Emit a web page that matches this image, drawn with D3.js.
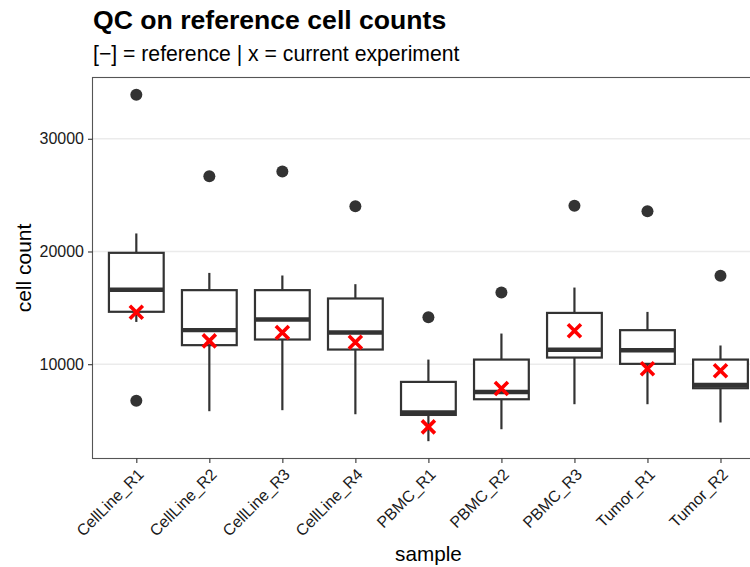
<!DOCTYPE html>
<html>
<head>
<meta charset="utf-8">
<script src="https://cdn.jsdelivr.net/npm/d3@7"></script>
<style>
  html, body { margin: 0; padding: 0; background: #fff; }
  svg { display: block; font-family: "Liberation Sans", Arial, Helvetica, sans-serif; }
</style>
</head>
<body>
<div id="chart"></div>
<script>
// ---- data ----
const categories = ["CellLine_R1","CellLine_R2","CellLine_R3","CellLine_R4","PBMC_R1","PBMC_R2","PBMC_R3","Tumor_R1","Tumor_R2"];
const whiskerLow  = [13750, 5830, 5920, 5560, 3170, 4230, 6450, 6450, 4830];
const q1          = [14650, 11690, 12190, 11300, 5500, 6890, 10590, 10030, 7870];
const medians     = [16600, 13020, 13970, 12810, 5720, 7540, 11280, 11240, 8160];
const q3          = [19880, 16570, 16570, 15830, 8430, 10410, 14550, 13020, 10410];
const whiskerHigh = [21600, 18100, 17870, 17100, 10410, 12720, 16800, 14640, 11660];
const outliers    = [[33900, 6750], [26680], [27100], [24020], [14170], [16360], [24050], [23580], [17840]];
const current     = [14600, 12070, 12810, 11950, 4440, 7840, 12960, 9590, 9410];
const yTicks      = [10000, 20000, 30000];

const titleText = "QC on reference cell counts";
const subtitleText = "[\u2212] = reference | x = current experiment";
const xTitle = "sample";
const yTitle = "cell count";

// ---- layout ----
const W = 750, H = 567;
const panel = { left: 92.5, right: 764.3, top: 77.5, bottom: 458.5 };

const svg = d3.select("#chart").append("svg")
  .attr("width", W).attr("height", H);

const allVals = [].concat(whiskerLow, whiskerHigh, current, outliers.flat());
const [vmin, vmax] = d3.extent(allVals);
const pad = (vmax - vmin) * 0.05;

const y = d3.scaleLinear().domain([vmin - pad, vmax + pad]).range([panel.bottom, panel.top]);
const x = d3.scalePoint().domain(categories).range([panel.left, panel.right]).padding(0.6);
const boxW = x.step() * 0.75;

const dark = "#333333";

// gridlines
svg.append("g").selectAll("line").data(yTicks).join("line")
  .attr("x1", panel.left).attr("x2", panel.right)
  .attr("y1", d => y(d)).attr("y2", d => y(d))
  .attr("stroke", "#ebebeb").attr("stroke-width", 1.6);

// boxes
const g = svg.append("g");
categories.forEach((c, i) => {
  const cx = x(c);
  g.append("line").attr("x1", cx).attr("x2", cx)
    .attr("y1", y(q3[i])).attr("y2", y(whiskerHigh[i]))
    .attr("stroke", dark).attr("stroke-width", 2.2);
  g.append("line").attr("x1", cx).attr("x2", cx)
    .attr("y1", y(q1[i])).attr("y2", y(whiskerLow[i]))
    .attr("stroke", dark).attr("stroke-width", 2.2);
  g.append("rect").attr("x", cx - boxW / 2).attr("width", boxW)
    .attr("y", y(q3[i])).attr("height", y(q1[i]) - y(q3[i]))
    .attr("fill", "#fff").attr("stroke", dark).attr("stroke-width", 2.2);
  g.append("line").attr("x1", cx - boxW / 2).attr("x2", cx + boxW / 2)
    .attr("y1", y(medians[i])).attr("y2", y(medians[i]))
    .attr("stroke", dark).attr("stroke-width", 4.4);
  g.selectAll(null).data(outliers[i]).join("circle")
    .attr("cx", cx).attr("cy", d => y(d)).attr("r", 6)
    .attr("fill", dark);
});

// current experiment crosses
const s = 6.5;
svg.append("g").selectAll("path").data(current).join("path")
  .attr("d", (d, i) => {
    const cx = x(categories[i]), cy = y(d);
    return `M${cx - s},${cy - s}L${cx + s},${cy + s}M${cx - s},${cy + s}L${cx + s},${cy - s}`;
  })
  .attr("stroke", "#ff0000").attr("stroke-width", 3.6).attr("fill", "none");

// panel border
svg.append("rect")
  .attr("x", panel.left).attr("y", panel.top)
  .attr("width", panel.right - panel.left).attr("height", panel.bottom - panel.top)
  .attr("fill", "none").attr("stroke", "#555").attr("stroke-width", 1.1);

// y axis
const yAxis = d3.axisLeft(y).tickValues(yTicks).tickSize(4.5).tickPadding(4).tickFormat(d3.format("d"));
const ya = svg.append("g").attr("transform", `translate(${panel.left},0)`).call(yAxis);
ya.select(".domain").remove();
ya.selectAll(".tick line").attr("stroke", dark).attr("stroke-width", 1.1);
ya.selectAll(".tick text").attr("fill", "#1a1a1a").style("font-size", "16px")
  .style("font-family", "Liberation Sans, Arial, sans-serif");

// x axis
const xAxis = d3.axisBottom(x).tickSize(4.5).tickPadding(4);
const xa = svg.append("g").attr("transform", `translate(0,${panel.bottom})`).call(xAxis);
xa.select(".domain").remove();
xa.selectAll(".tick line").attr("stroke", dark).attr("stroke-width", 1.1);
xa.selectAll(".tick text")
  .attr("fill", "#1a1a1a").style("font-size", "16px")
  .style("font-family", "Liberation Sans, Arial, sans-serif")
  .attr("text-anchor", "end")
  .attr("dy", null).attr("y", null)
  .attr("transform", "translate(8,17) rotate(-45)");

// titles
svg.append("text").attr("x", 93).attr("y", 29)
  .attr("font-size", 26.6).attr("font-weight", "bold").attr("fill", "#000")
  .text(titleText);
svg.append("text").attr("x", 93).attr("y", 61)
  .attr("font-size", 21.2).attr("fill", "#000")
  .text(subtitleText);
svg.append("text").attr("x", (panel.left + panel.right) / 2).attr("y", 561)
  .attr("text-anchor", "middle").attr("font-size", 20.7).attr("fill", "#000")
  .text(xTitle);
svg.append("text").attr("transform", `translate(31,${(panel.top + panel.bottom) / 2}) rotate(-90)`)
  .attr("text-anchor", "middle").attr("font-size", 21).attr("fill", "#000")
  .text(yTitle);
</script>
</body>
</html>
